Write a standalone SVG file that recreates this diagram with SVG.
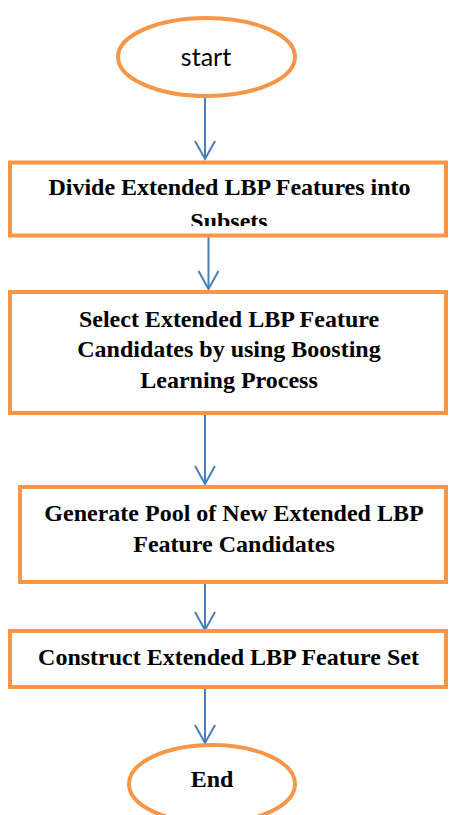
<svg xmlns="http://www.w3.org/2000/svg" width="449" height="815" viewBox="0 0 449 815">
<style>
.shape{fill:#ffffff;stroke:#F79646;stroke-width:4}
.lbl{font-family:'Liberation Serif','Times New Roman','DejaVu Serif',serif;font-weight:700;font-size:24px;fill:#000;text-anchor:middle}
.st{font-family:Lato,'Open Sans',sans-serif;font-size:25px;fill:#000;text-anchor:middle}
.conn{stroke:#4A7EBB;stroke-width:2;fill:none}
</style>
<defs>
<marker id="arr" markerUnits="userSpaceOnUse" markerWidth="24" markerHeight="24" viewBox="-20 -12 24 24" refX="0" refY="0" orient="auto" overflow="visible">
<path d="M-18,-10 L0,0 L-18,10" fill="none" stroke="#4A7EBB" stroke-width="2"/>
</marker>
<clipPath id="c1"><rect x="12" y="165" width="432" height="61"/></clipPath>
</defs>
<rect width="449" height="815" fill="#ffffff"/>
<g id="connectors">
<line class="conn" x1="205" y1="98" x2="205" y2="159" marker-end="url(#arr)"/>
<line class="conn" x1="208.5" y1="237" x2="208.5" y2="289" marker-end="url(#arr)"/>
<line class="conn" x1="205" y1="415" x2="205" y2="484" marker-end="url(#arr)"/>
<line class="conn" x1="205" y1="582" x2="205" y2="630" marker-end="url(#arr)"/>
<line class="conn" x1="205" y1="689" x2="205" y2="743" marker-end="url(#arr)"/>
</g>
<g id="start">
<ellipse class="shape" cx="206.5" cy="57" rx="88.5" ry="39"/>
<text class="st" x="206" y="66">start</text>
</g>
<g id="divide">
<rect class="shape" x="10" y="162.5" width="436" height="73"/>
<g clip-path="url(#c1)">
<text class="lbl" font-family="Liberation Serif, serif" x="229.5" y="195">Divide Extended LBP Features into</text>
<text class="lbl" font-family="Liberation Serif, serif" x="229" y="229">Subsets</text>
</g>
</g>
<g id="select">
<rect class="shape" x="10" y="292" width="436" height="121"/>
<text class="lbl" x="229" y="327">Select Extended LBP Feature</text>
<text class="lbl" x="229" y="357">Candidates by using Boosting</text>
<text class="lbl" x="229" y="388">Learning Process</text>
</g>
<g id="generate">
<rect class="shape" x="20" y="487" width="426" height="95"/>
<text class="lbl" x="234" y="521">Generate Pool of New Extended LBP</text>
<text class="lbl" x="234" y="552">Feature Candidates</text>
</g>
<g id="construct">
<rect class="shape" x="10" y="631" width="436" height="56"/>
<text class="lbl" x="228.5" y="665">Construct Extended LBP Feature Set</text>
</g>
<g id="end">
<ellipse class="shape" cx="212" cy="784" rx="83" ry="39"/>
<text class="lbl" x="212" y="787">End</text>
</g>
</svg>
